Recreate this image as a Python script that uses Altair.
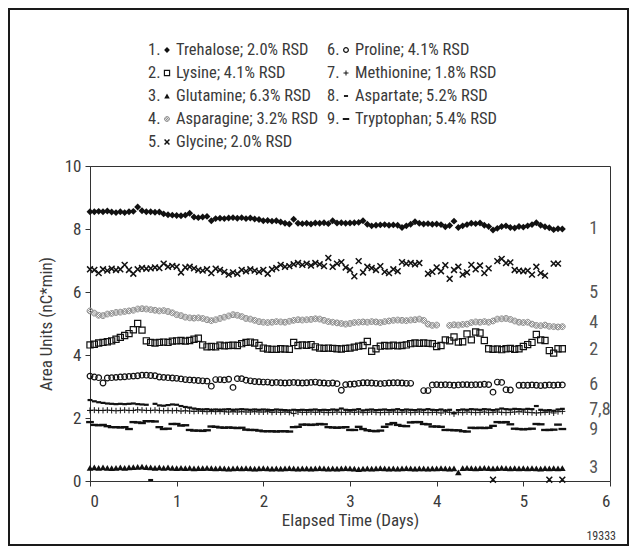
import altair as alt
import pandas as pd

# ---------------- data ----------------
INTERVAL_DAYS = 0.05          # time between injections
N_POINTS = 110
times = [round(i * INTERVAL_DAYS, 2) for i in range(N_POINTS)]

trehalose = [
    8.55, 8.55, 8.56, 8.55, 8.57, 8.54, 8.52, 8.55, 8.52, 8.55,
    8.56, 8.70, 8.58, 8.55, 8.55, 8.53, 8.54, 8.48, 8.45, 8.44,
    8.43, 8.42, 8.44, 8.50, 8.38, 8.36, 8.38, 8.40, 8.26, 8.33,
    8.34, 8.33, 8.35, 8.36, 8.34, 8.36, 8.33, 8.35, 8.32, 8.30,
    8.26, 8.27, 8.25, 8.26, 8.22, 8.18, 8.16, 8.31, 8.18, 8.17,
    8.18, 8.16, 8.19, 8.18, 8.20, 8.17, 8.26, 8.19, 8.20, 8.18,
    8.19, 8.20, 8.21, 8.26, 8.15, 8.10, 8.12, 8.13, 8.14, 8.12,
    8.13, 8.12, 8.05, 8.10, 8.15, 8.23, 8.18, 8.16, 8.17, 8.15,
    8.16, 8.14, 8.07, 8.11, 8.25, 8.05, 8.10, 8.14, 8.18, 8.17,
    8.19, 8.12, 8.08, 7.97, 8.02, 8.08, 8.10, 8.05, 8.03, 8.08,
    8.06, 8.10, 8.14, 8.20, 8.12, 8.07, 8.04, 7.98, 8.01, 8.00,
]
lysine = [
    4.32, 4.34, 4.38, 4.40, 4.42, 4.45, 4.50, 4.56, 4.62, 4.68,
    4.80, 5.00, 4.79, 4.45, 4.40, 4.38, 4.40, 4.41, 4.40, 4.44,
    4.45, 4.46, 4.44, 4.46, 4.50, 4.53, 4.32, 4.26, 4.27, 4.26,
    4.31, 4.29, 4.30, 4.31, 4.30, 4.36, 4.40, 4.41, 4.38, 4.30,
    4.22, 4.19, 4.18, 4.18, 4.20, 4.19, 4.18, 4.40, 4.30, 4.32,
    4.31, 4.33, 4.26, 4.22, 4.21, 4.22, 4.21, 4.20, 4.19, 4.21,
    4.22, 4.25, 4.28, 4.30, 4.43, 4.12, 4.20, 4.28, 4.30, 4.29,
    4.31, 4.29, 4.30, 4.32, 4.36, 4.38, 4.37, 4.38, 4.37, 4.36,
    4.27, 4.30, 4.48, 4.45, 4.57, 4.41, 4.42, 4.67, 4.48, 4.73,
    4.70, 4.46, 4.20, 4.18, 4.19, 4.17, 4.20, 4.21, 4.18, 4.20,
    4.27, 4.33, 4.40, 4.65, 4.48, 4.46, 4.14, 4.06, 4.20, 4.20,
]
glutamine = [
    0.42, 0.43, 0.42, 0.43, 0.42, 0.41, 0.42, 0.43, 0.42, 0.43,
    0.44, 0.45, 0.46, 0.44, 0.43, 0.42, 0.43, 0.42, 0.43, 0.42,
    0.41, 0.42, 0.41, 0.42, 0.40, 0.41, 0.41, 0.42, 0.41, 0.40,
    0.41, 0.40, 0.39, 0.40, 0.41, 0.40, 0.41, 0.40, 0.39, 0.40,
    0.41, 0.40, 0.39, 0.40, 0.39, 0.40, 0.41, 0.40, 0.39, 0.40,
    0.40, 0.39, 0.40, 0.41, 0.40, 0.39, 0.40, 0.39, 0.40, 0.41,
    0.40, 0.39, 0.38, 0.39, 0.40, 0.39, 0.40, 0.41, 0.40, 0.39,
    0.40, 0.39, 0.40, 0.41, 0.40, 0.39, 0.40, 0.40, 0.39, 0.40,
    0.40, 0.41, 0.40, 0.39, 0.40, 0.27, 0.41, 0.42, 0.41, 0.40,
    0.41, 0.42, 0.41, 0.40, 0.41, 0.42, 0.41, 0.40, 0.41, 0.40,
    0.41, 0.40, 0.41, 0.40, 0.39, 0.41, 0.40, 0.41, 0.40, 0.41,
]
asparagine = [
    5.40, 5.33, 5.26, 5.25, 5.30, 5.32, 5.35, 5.36, 5.38, 5.40,
    5.42, 5.46, 5.47, 5.46, 5.44, 5.42, 5.40, 5.41, 5.38, 5.34,
    5.28, 5.25, 5.20, 5.18, 5.17, 5.18, 5.16, 5.12, 5.09, 5.12,
    5.16, 5.20, 5.24, 5.28, 5.26, 5.22, 5.16, 5.14, 5.10, 5.06,
    5.04, 5.03, 5.04, 5.06, 5.05, 5.04, 5.07, 5.10, 5.12, 5.11,
    5.12, 5.13, 5.15, 5.14, 5.10, 5.06, 5.04, 5.02, 5.00, 4.98,
    5.00, 5.03, 5.04, 5.05, 5.04, 5.06, 5.05, 5.03, 5.06, 5.08,
    5.10, 5.11, 5.10, 5.09, 5.11, 5.12, 5.14, 5.10, 4.98, 4.94,
    4.95, None, None, 4.94, 4.96, 4.95, 4.97, 4.98, 5.03, 5.05,
    5.04, 5.06, 5.04, 5.08, 5.14, 5.15, 5.16, 5.13, 5.08, 5.04,
    5.03, 5.04, 4.98, 4.94, 4.93, 4.95, 4.91, 4.90, 4.89, 4.90,
]
glycine = [
    6.72, 6.70, 6.60, 6.72, 6.68, 6.74, 6.70, 6.72, 6.86, 6.70,
    6.58, 6.72, 6.76, 6.74, 6.75, 6.78, 6.76, 6.90, 6.80, 6.83,
    6.80, 6.62, 6.78, 6.80, 6.75, 6.70, 6.68, 6.72, 6.60, 6.74,
    6.70, 6.64, 6.55, 6.62, 6.58, 6.70, 6.66, 6.72, 6.68, 6.64,
    6.70, 6.58, 6.72, 6.76, 6.86, 6.80, 6.82, 6.88, 6.92, 6.86,
    6.90, 6.84, 6.92, 6.88, 6.82, 7.08, 6.80, 6.90, 6.95, 6.78,
    6.70, 6.50, 6.98, 6.62, 6.80, 6.76, 6.70, 6.82, 6.64, 6.60,
    6.72, 6.66, 6.95, 6.90, 6.92, 6.88, 6.92, None, 6.58, 6.64,
    6.78, 6.66, 6.85, 6.42, 6.70, 6.80, 6.55, 6.62, 6.86, 6.72,
    6.84, 6.60, 6.75, 0.04, 6.98, 7.05, 6.92, 6.94, 6.70, 6.68,
    6.66, 6.68, 6.55, 6.80, 6.60, 6.52, 0.04, 6.90, 6.90, 0.04,
]
proline = [
    3.33, 3.30, 3.28, 3.11, 3.27, 3.28, 3.29, 3.30, 3.31, 3.32,
    3.33, 3.34, 3.36, 3.36, 3.35, 3.34, 3.30, 3.29, 3.28, 3.27,
    3.26, 3.24, 3.22, 3.21, 3.20, 3.19, 3.18, 3.17, 3.01, 3.22,
    3.22, 3.21, 3.23, 2.97, 3.25, 3.25, 3.20, 3.18, 3.16, 3.15,
    3.14, 3.14, 3.12, 3.13, 3.12, 3.11, 3.12, 3.13, 3.12, 3.11,
    3.12, 3.13, 3.14, 3.12, 3.11, 3.10, 3.11, 3.09, 2.88, 3.06,
    3.07, 3.08, 3.10, 3.12, 3.12, 3.11, 3.10, 3.09, 3.10, 3.11,
    3.12, 3.12, 3.11, 3.10, 3.10, None, None, 2.87, 2.87, 3.05,
    3.06, 3.05, 3.06, 3.05, 3.04, 3.05, 3.06, 3.06, 3.05, 3.06,
    3.06, 3.07, 3.06, 2.82, 3.14, 3.13, 2.90, 2.89, None, 3.04,
    3.04, 3.04, 3.05, 3.04, 3.03, 3.04, 3.05, 3.04, 3.05, 3.05,
]
methionine = [
    2.24, 2.25, 2.24, 2.24, 2.25, 2.24, 2.23, 2.24, 2.25, 2.24,
    2.24, 2.26, 2.25, 2.24, 2.24, 2.25, 2.24, 2.23, 2.24, 2.23,
    2.24, 2.22, 2.23, 2.22, 2.21, 2.22, 2.21, 2.20, 2.21, 2.20,
    2.21, 2.20, 2.19, 2.20, 2.19, 2.20, 2.19, 2.19, 2.20, 2.19,
    2.19, 2.20, 2.18, 2.19, 2.18, 2.19, 2.18, 2.14, 2.19, 2.18,
    2.18, 2.19, 2.18, 2.19, 2.18, 2.17, 2.18, 2.19, 2.18, 2.18,
    2.19, 2.18, 2.19, 2.17, 2.18, 2.19, 2.18, 2.17, 2.18, 2.18,
    2.19, 2.18, 2.18, 2.19, 2.17, 2.18, 2.19, 2.18, 2.17, 2.18,
    2.18, 2.16, 2.19, 2.18, 2.13, 2.18, 2.17, 2.19, 2.18, 2.17,
    2.18, 2.19, 2.17, 2.18, 2.19, 2.18, 2.17, 2.18, 2.19, 2.20,
    2.19, 2.18, 2.17, 2.16, 2.17, 2.18, 2.19, 2.16, 2.20, 2.21,
]
aspartate = [
    2.57, 2.53, 2.50, 2.48, 2.46, 2.45, 2.44, 2.45, 2.44, 2.45,
    2.46, 2.44, 2.43, 2.42, 0.03, 2.45, 2.40, 2.39, 2.41, 2.43,
    2.42, 2.38, 2.35, 2.33, 2.30, 2.28, 2.27, 2.28, 2.26, 2.27,
    2.26, 2.27, 2.28, 2.26, 2.27, 2.28, 2.27, 2.26, 2.27, 2.26,
    2.27, 2.26, 2.25, 2.27, 2.26, 2.25, 2.24, 2.26, 2.25, 2.26,
    2.25, 2.26, 2.27, 2.25, 2.26, 2.25, 2.27, 2.26, 2.30, 2.26,
    2.25, 2.26, 2.28, 2.24, 2.26, 2.27, 2.25, 2.26, 2.27, 2.25,
    2.26, 2.28, 2.25, 2.27, 2.26, 2.25, 2.27, 2.26, 2.28, 2.26,
    2.25, 2.27, 2.24, 2.26, 2.16, 2.25, 2.27, 2.26, 2.28, 2.27,
    2.26, 2.28, 2.27, 2.25, 2.27, 2.30, 2.28, 2.27, 2.29, 2.28,
    2.27, 2.29, 2.28, 2.38, 2.26, 2.24, 2.25, 2.23, 2.27, 2.29,
]
tryptophan = [
    1.87, 1.78, 1.77, 1.78, 1.74, 1.71, 1.71, 1.70, 1.71, 1.65,
    1.87, 1.86, 1.84, 1.90, 1.90, 1.89, 1.71, 1.65, 1.66, 1.81,
    1.81, 1.76, 1.77, 1.62, 1.60, 1.60, 1.59, 1.61, 1.73, 1.72,
    1.70, 1.69, 1.70, 1.69, 1.68, 1.69, 1.63, 1.62, 1.62, 1.60,
    1.58, 1.58, 1.58, 1.57, 1.58, 1.58, 1.57, 1.71, 1.72, 1.79,
    1.79, 1.78, 1.79, 1.81, 1.80, 1.71, 1.70, 1.69, 1.70, 1.71,
    1.62, 1.62, 1.72, 1.65, 1.61, 1.59, 1.58, 1.60, 1.72, 1.80,
    1.84, 1.78, 1.75, 1.74, 1.86, 1.87, 1.87, 1.81, 1.80, 1.73,
    1.73, 1.72, 1.62, 1.62, 1.61, 1.61, 1.58, 1.57, 1.69, 1.68,
    1.69, 1.68, 1.69, 1.75, 1.87, 1.86, 1.87, 1.80, 1.66, 1.65,
    1.64, 1.65, 1.66, 1.81, 1.80, 1.62, 1.62, 1.63, 1.79, 1.65,
]

legend_numbers = ["1.", "2.", "3.", "4.", "5.", "6.", "7.", "8.", "9."]
legend_labels = [
    "Trehalose; 2.0% RSD", "Lysine; 4.1% RSD", "Glutamine; 6.3% RSD",
    "Asparagine; 3.2% RSD", "Glycine; 2.0% RSD", "Proline; 4.1% RSD",
    "Methionine; 1.8% RSD", "Aspartate; 5.2% RSD", "Tryptophan; 5.4% RSD",
]
end_labels = ["1", "5", "4", "2", "6", "7,8", "9", "3"]
end_label_values = [8.01, 5.96, 5.02, 4.16, 3.05, 2.26, 1.62, 0.41]
end_label_time = 5.76
x_ticks = [0, 1, 2, 3, 4, 5, 6]
y_ticks = [0, 2, 4, 6, 8, 10]
figure_code = "19333"

# ---------------- styling ----------------
FONT = "Liberation Sans Narrow, Roboto Condensed, DejaVu Sans Condensed, Arial Narrow, sans-serif"
INK = "#111111"
TEXT = "#3a3a3a"
W, H = 520, 315

X_SHAPE = "M-1,-1L1,1M-1,1L1,-1"
PLUS_SHAPE = "M-1,0L1,0M0,-1L0,1"
SLASH_CIRCLE = ("M-1,0A1,1 0 1,0 1,0A1,1 0 1,0 -1,0Z"
                "M-0.7,0.7L0.7,-0.7M-0.25,0.95L0.95,-0.25M-0.95,0.25L0.25,-0.95")
SHORT_DASH = "M-1,-0.45L1,-0.45L1,0.45L-1,0.45Z"
LONG_DASH = "M-1,-0.3L1,-0.3L1,0.3L-1,0.3Z"

styles = [
    # values, shape, size, filled, fill, stroke, strokeWidth
    (trehalose, "diamond", 48, True, INK, None, 0),
    (lysine, "square", 38, False, None, INK, 1.2),
    (glutamine, "triangle-up", 44, True, INK, None, 0),
    (asparagine, SLASH_CIRCLE, 34, False, None, "#8f8f8f", 1.0),
    (glycine, X_SHAPE, 34, False, None, INK, 1.5),
    (proline, "circle", 32, False, None, INK, 1.2),
    (methionine, PLUS_SHAPE, 36, False, None, INK, 1.0),
    (aspartate, SHORT_DASH, 24, True, INK, None, 0),
    (tryptophan, LONG_DASH, 60, True, INK, None, 0),
]

x_enc = alt.X(
    "t:Q",
    scale=alt.Scale(domain=[0, 6], nice=False, zero=False),
    axis=alt.Axis(values=x_ticks, title="Elapsed Time (Days)", format="d",
                  labelPadding=7, titlePadding=3),
)
y_enc = alt.Y(
    "v:Q",
    scale=alt.Scale(domain=[0, 10], nice=False),
    axis=alt.Axis(values=y_ticks, title="Area Units (nC*min)", format="d",
                  labelPadding=4, titlePadding=9),
)

layers = []
for vals, shape, size, filled, fill, stroke, sw in styles:
    df = pd.DataFrame({"t": times, "v": vals}).dropna()
    kw = dict(shape=shape, size=size, opacity=1)
    if filled:
        kw.update(filled=True, fill=fill, strokeWidth=0)
    else:
        kw.update(filled=False, stroke=stroke, strokeWidth=sw)
    layers.append(alt.Chart(df).mark_point(**kw).encode(x=x_enc, y=y_enc))

# labels at right end of each series
end_df = pd.DataFrame({"t": [end_label_time] * len(end_labels),
                       "v": end_label_values, "label": end_labels})
layers.append(
    alt.Chart(end_df).mark_text(align="left", baseline="middle", fontSize=18,
                                color="#555555", font=FONT)
    .encode(x=x_enc, y=y_enc, text="label:N")
)

# custom legend (two columns) above the plot
one = pd.DataFrame({"k": [0]})
col_x = [(58, 77, 86), (237, 256, 265)]
row_y = [-116, -93, -70, -47, -24]
for i, (num, lab) in enumerate(zip(legend_numbers, legend_labels)):
    col = 0 if i < 5 else 1
    row = i if i < 5 else i - 5
    nx, mx, lx = col_x[col]
    yy = row_y[row]
    _, shape, size, filled, fill, stroke, sw = styles[i]
    layers.append(alt.Chart(one).mark_text(align="left", baseline="middle",
                  fontSize=16.5, color=TEXT, font=FONT, text=num)
                  .encode(x=alt.value(nx), y=alt.value(yy)))
    kw = dict(shape=shape, size=size * 0.7, opacity=1)
    if filled:
        kw.update(filled=True, fill=fill, strokeWidth=0)
    else:
        kw.update(filled=False, stroke=stroke, strokeWidth=sw)
    layers.append(alt.Chart(one).mark_point(**kw)
                  .encode(x=alt.value(mx), y=alt.value(yy)))
    layers.append(alt.Chart(one).mark_text(align="left", baseline="middle",
                  fontSize=16.5, color=TEXT, font=FONT, text=lab)
                  .encode(x=alt.value(lx), y=alt.value(yy)))

# figure code and outer border
layers.append(alt.Chart(one).mark_text(align="right", baseline="middle",
              fontSize=12, color=TEXT, font=FONT, text=figure_code)
              .encode(x=alt.value(526), y=alt.value(370)))
layers.append(alt.Chart(one).mark_rect(fillOpacity=0, stroke="#1a1a1a",
              strokeWidth=2)
              .encode(x=alt.value(-81), x2=alt.value(538),
                      y=alt.value(-157), y2=alt.value(379)))

chart = (
    alt.layer(*layers)
    .properties(width=W, height=H, background="white",
                autosize=alt.AutoSizeParams(type="none"),
                padding={"left": 82, "top": 158, "right": 19, "bottom": 65})
    .configure_view(stroke="#333333", strokeWidth=1)
    .configure_axis(
        grid=False, domainColor="#333333", tickColor="#333333", tickSize=5,
        labelColor=TEXT, labelFont=FONT, labelFontSize=17,
        titleColor=TEXT, titleFont=FONT, titleFontSize=17,
        titleFontWeight="normal",
    )
)

chart.save("out.html", embed_options={"renderer": "svg", "actions": False})
